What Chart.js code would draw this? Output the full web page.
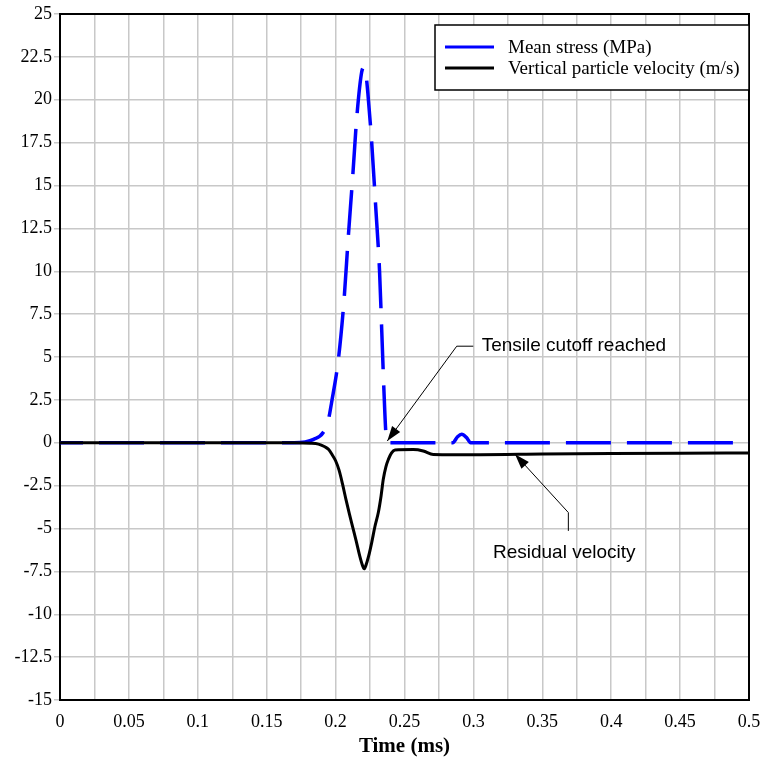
<!DOCTYPE html>
<html><head><meta charset="utf-8">
<script src="https://cdn.jsdelivr.net/npm/chart.js@4.4.1/dist/chart.umd.min.js"></script>
<style>html,body{margin:0;padding:0;background:#fff;}#wrap{width:762px;height:760px;}</style>
</head><body><div id="wrap"><canvas id="c" width="762" height="760"></canvas></div>
<script>
// ---- data ----
const stressTime   = [0, 0.17, 0.178, 0.184, 0.191, 0.1948, 0.1971, 0.202, 0.2061, 0.2092, 0.2124, 0.2153, 0.2189, 0.2206, 0.222, 0.2235, 0.2262, 0.2293, 0.2319, 0.2335, 0.2351, 0.2366, 0.2375, 0.285, 0.2885, 0.2915, 0.295, 0.298, 0.5];
const stressValues = [0, 0, 0.05, 0.2, 0.6, 1.35, 2.35, 4.85, 8.3, 12.0, 15.5, 18.9, 21.6, 21.9, 21.5, 20.3, 17.5, 13.5, 10.0, 6.5, 3.0, 0.4, 0, 0, 0.35, 0.5, 0.3, 0, 0];
const velocityTime   = [0, 0.17, 0.182, 0.1875, 0.19, 0.1925, 0.195, 0.1975, 0.2, 0.2025, 0.205, 0.2075, 0.21, 0.2125, 0.215, 0.2175, 0.2195, 0.2208, 0.222, 0.224, 0.2262, 0.2285, 0.231, 0.233, 0.2346, 0.2365, 0.2383, 0.2405, 0.2431, 0.2564, 0.2636, 0.2709, 0.3048, 0.35, 0.4, 0.45, 0.5];
const velocityValues = [0, 0, -0.03, -0.08, -0.15, -0.25, -0.4, -0.7, -1.05, -1.6, -2.4, -3.3, -4.15, -4.95, -5.75, -6.6, -7.15, -7.35, -7.15, -6.6, -5.82, -4.9, -4.07, -3.1, -2.13, -1.4, -0.97, -0.6, -0.42, -0.4, -0.48, -0.68, -0.7, -0.66, -0.63, -0.61, -0.6];
const seriesNames = ['Mean stress (MPa)', 'Vertical particle velocity (m/s)'];
const xAxisTitle = 'Time (ms)';
const xRange = [0, 0.5];
const yRange = [-15, 25];
const xGridStep = 0.025;
const xLabelStep = 0.05;
const yTickStep = 2.5;
const annotationTexts = ['Tensile cutoff reached', 'Residual velocity'];
// annotation anchors in data units: [textX, textY], elbow path, arrow tip
const annotations = [
  {text: annotationTexts[0], at: [0.306, 5.63], path: [[0.2999, 5.63], [0.2879, 5.63], [0.2375, 0.1]]},
  {text: annotationTexts[1], at: [0.3142, -6.39], path: [[0.3689, -5.14], [0.3689, -4.07], [0.3302, -0.67]]}
];

const toPts = (xs, ys) => xs.map((x, i) => ({x: x, y: ys[i]}));
const SERIF = '"Liberation Serif", "Times New Roman", serif';
const SANS = '"Liberation Sans", Arial, sans-serif';

const overlay = {
  id: 'overlay',
  beforeDatasetsDraw(chart) {
    const {ctx, chartArea: a} = chart;
    ctx.save();
    ctx.strokeStyle = '#000';
    ctx.lineWidth = 2;
    ctx.strokeRect(a.left, a.top, a.right - a.left, a.bottom - a.top);
    ctx.restore();
  },
  afterDatasetsDraw(chart) {
    const {ctx, scales: {x, y}, chartArea: a} = chart;
    ctx.save();
    annotations.forEach(an => {
      const pts = an.path.map(p => [x.getPixelForValue(p[0]), y.getPixelForValue(p[1])]);
      ctx.strokeStyle = '#000';
      ctx.lineWidth = 1;
      ctx.beginPath();
      ctx.moveTo(pts[0][0], pts[0][1]);
      for (let i = 1; i < pts.length; i++) ctx.lineTo(pts[i][0], pts[i][1]);
      ctx.stroke();
      const tip = pts[pts.length - 1], prev = pts[pts.length - 2];
      const ang = Math.atan2(tip[1] - prev[1], tip[0] - prev[0]);
      const L = 15, W = 5;
      ctx.fillStyle = '#000';
      ctx.beginPath();
      ctx.moveTo(tip[0], tip[1]);
      ctx.lineTo(tip[0] - L * Math.cos(ang) + W * Math.sin(ang), tip[1] - L * Math.sin(ang) - W * Math.cos(ang));
      ctx.lineTo(tip[0] - L * Math.cos(ang) - W * Math.sin(ang), tip[1] - L * Math.sin(ang) + W * Math.cos(ang));
      ctx.closePath();
      ctx.fill();
      ctx.font = '19px ' + SANS;
      ctx.textAlign = 'left';
      ctx.textBaseline = 'middle';
      ctx.fillText(an.text, x.getPixelForValue(an.at[0]), y.getPixelForValue(an.at[1]));
    });
    // legend
    const bx = 435, by = 25, bw = a.right - 435, bh = 65;
    ctx.fillStyle = '#fff';
    ctx.fillRect(bx, by, bw, bh);
    ctx.strokeStyle = '#000';
    ctx.lineWidth = 1.5;
    ctx.strokeRect(bx, by, bw, bh);
    const cols = ['#0000ff', '#000000'];
    const rows = [47, 68];
    ctx.font = '19px ' + SERIF;
    ctx.textBaseline = 'middle';
    ctx.textAlign = 'left';
    seriesNames.forEach((n, i) => {
      ctx.strokeStyle = cols[i];
      ctx.lineWidth = 3;
      ctx.beginPath();
      ctx.moveTo(445, rows[i]);
      ctx.lineTo(494, rows[i]);
      ctx.stroke();
      ctx.fillStyle = '#000';
      ctx.fillText(n, 508, rows[i] + 1);
    });
    ctx.restore();
  }
};

new Chart(document.getElementById('c'), {
  type: 'line',
  data: {
    datasets: [
      {label: seriesNames[0], data: toPts(stressTime, stressValues), borderColor: '#0000ff', borderWidth: 3.5,
       borderDash: [45, 16], borderDashOffset: 22, pointRadius: 0, cubicInterpolationMode: 'monotone', fill: false, order: 1},
      {label: seriesNames[1], data: toPts(velocityTime, velocityValues), borderColor: '#000000', borderWidth: 3,
       pointRadius: 0, cubicInterpolationMode: 'monotone', fill: false, order: 0}
    ]
  },
  options: {
    responsive: false,
    devicePixelRatio: 1,
    animation: false,
    layout: {padding: {left: 0, right: 13, top: 14, bottom: 0}},
    plugins: {legend: {display: false}, tooltip: {enabled: false}},
    scales: {
      x: {
        type: 'linear', min: xRange[0], max: xRange[1],
        border: {display: false},
        grid: {color: '#c8c8c8', lineWidth: 1.5, drawTicks: false},
        ticks: {
          stepSize: xGridStep, autoSkip: false, maxRotation: 0, padding: 11, color: '#000',
          font: {family: SERIF, size: 18},
          callback: v => (Math.round(v * 1000) % Math.round(xLabelStep * 1000) === 0) ? String(parseFloat(v.toFixed(3))) : ''
        },
        title: {display: true, text: xAxisTitle, color: '#000', font: {family: SERIF, size: 21, weight: 'bold'}, padding: {top: 0, bottom: 1}},
        afterFit: s => { s.height = 60; s.paddingRight = 0; s.paddingLeft = 0; }
      },
      y: {
        type: 'linear', min: yRange[0], max: yRange[1],
        border: {display: false},
        grid: {color: '#c8c8c8', lineWidth: 1.5, tickLength: 6},
        ticks: {
          stepSize: yTickStep, autoSkip: false, padding: 2, color: '#000',
          font: {family: SERIF, size: 18},
          callback: v => String(parseFloat(v.toFixed(1)))
        },
        afterFit: s => { s.width = 60; s.paddingTop = 0; s.paddingBottom = 0; }
      }
    }
  },
  plugins: [overlay]
});
</script>
</body></html>
